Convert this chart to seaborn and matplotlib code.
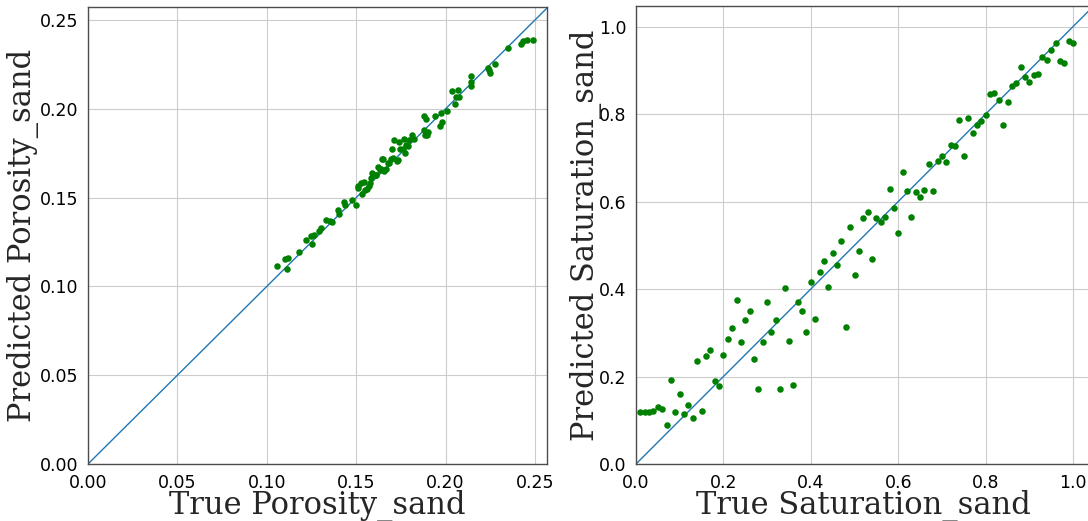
import numpy as np
import pandas as pd
import matplotlib
matplotlib.use("Agg")
import matplotlib.pyplot as plt
import seaborn as sns

# Porosity: true vs predicted
por_true = [0.1059, 0.1102, 0.1117, 0.1112, 0.1181, 0.1219, 0.1252, 0.1247, 0.1262, 0.1290,
            0.1301, 0.1333, 0.1356, 0.1363, 0.1397, 0.1406, 0.1431, 0.1440, 0.1476, 0.1498,
            0.1511, 0.1524, 0.1543, 0.1509, 0.1530, 0.1558, 0.1571, 0.1581, 0.1590, 0.1577,
            0.1609, 0.1622, 0.1637, 0.1650, 0.1656, 0.1665, 0.1684, 0.1693, 0.1699, 0.1712,
            0.1740, 0.1731, 0.1708, 0.1746, 0.1768, 0.1772, 0.1787, 0.1796, 0.1811, 0.1821,
            0.1881, 0.1890, 0.1881, 0.1886, 0.1903, 0.1943, 0.1975, 0.1969, 0.1978, 0.2005,
            0.2037, 0.2068, 0.2059, 0.2055, 0.2074, 0.2140, 0.2140, 0.2143, 0.2237, 0.2247,
            0.2275, 0.2243, 0.2351, 0.2420, 0.2435, 0.2455, 0.2491,
            0.1549, 0.1611, 0.1633, 0.1646, 0.1680, 0.1726, 0.1764, 0.1779, 0.1898]
por_pred = [0.1116, 0.1154, 0.1158, 0.1098, 0.1191, 0.1263, 0.1240, 0.1281, 0.1287, 0.1310,
            0.1328, 0.1371, 0.1366, 0.1360, 0.1428, 0.1405, 0.1473, 0.1458, 0.1488, 0.1456,
            0.1563, 0.1582, 0.1585, 0.1553, 0.1520, 0.1550, 0.1563, 0.1610, 0.1638, 0.1582,
            0.1629, 0.1672, 0.1660, 0.1717, 0.1651, 0.1660, 0.1694, 0.1717, 0.1775, 0.1822,
            0.1812, 0.1713, 0.1722, 0.1773, 0.1829, 0.1750, 0.1788, 0.1826, 0.1852, 0.1829,
            0.1961, 0.1944, 0.1878, 0.1850, 0.1867, 0.1962, 0.1976, 0.1904, 0.1923, 0.1989,
            0.2098, 0.2103, 0.2066, 0.2028, 0.2069, 0.2182, 0.2126, 0.2148, 0.2229, 0.2201,
            0.2253, 0.2216, 0.2341, 0.2365, 0.2382, 0.2385, 0.2387,
            0.1543, 0.1627, 0.1655, 0.1716, 0.1693, 0.1708, 0.1772, 0.1796, 0.1852]

# Saturation: true vs predicted
sat_true = [round(0.01 * i, 2) for i in range(1, 101)]
sat_pred = [0.119, 0.120, 0.119, 0.122, 0.131, 0.125, 0.089, 0.193, 0.119, 0.159,
            0.115, 0.135, 0.106, 0.236, 0.121, 0.248, 0.260, 0.189, 0.178, 0.249,
            0.285, 0.311, 0.375, 0.280, 0.330, 0.350, 0.240, 0.171, 0.278, 0.371,
            0.301, 0.329, 0.171, 0.402, 0.282, 0.180, 0.370, 0.349, 0.301, 0.415,
            0.331, 0.440, 0.463, 0.405, 0.482, 0.454, 0.509, 0.314, 0.541, 0.433,
            0.486, 0.562, 0.576, 0.469, 0.562, 0.553, 0.564, 0.628, 0.585, 0.528,
            0.667, 0.625, 0.565, 0.622, 0.610, 0.626, 0.686, 0.624, 0.693, 0.705,
            0.690, 0.729, 0.727, 0.787, 0.703, 0.791, 0.756, 0.776, 0.783, 0.798,
            0.846, 0.847, 0.831, 0.775, 0.827, 0.864, 0.872, 0.907, 0.884, 0.874,
            0.889, 0.891, 0.930, 0.923, 0.946, 0.962, 0.921, 0.917, 0.968, 0.963]

por_ticks = [0.00, 0.05, 0.10, 0.15, 0.20, 0.25]
sat_ticks = [0.0, 0.2, 0.4, 0.6, 0.8, 1.0]

sns.set_theme(style="whitegrid")
plt.rcParams.update({
    "axes.edgecolor": "0.3",
    "axes.linewidth": 1.0,
    "grid.color": "0.8",
    "grid.linewidth": 0.8,
    "xtick.major.size": 3.5,
    "ytick.major.size": 3.5,
    "xtick.color": "black",
    "ytick.color": "black",
    "xtick.labelsize": 12.5,
    "ytick.labelsize": 12.5,
})
plt.rcParams["font.family"] = ["DejaVu Sans"]

fig = plt.figure(figsize=(10.88, 5.21), dpi=100)
W, H = 1088, 521
ax1 = fig.add_axes([88 / W, 57 / H, 459 / W, 457 / H])
ax2 = fig.add_axes([636 / W, 57 / H, 455 / W, 458 / H])

df_por = pd.DataFrame({"true": por_true, "pred": por_pred})
df_sat = pd.DataFrame({"true": sat_true, "pred": sat_pred})

label_font = {"family": "DejaVu Serif", "size": 22}

panels = [
    (ax1, df_por, (0, 0.2567), (0, 0.2573), por_ticks, "{:.2f}",
     "True Porosity_sand", "Predicted Porosity_sand", -0.106),
    (ax2, df_sat, (0, 1.041), (0, 1.047), sat_ticks, "{:.1f}",
     "True Saturation_sand", "Predicted Saturation_sand", -0.075),
]

for ax, df, xl, yl, ticks, fmt, xlab, ylab, ylx in panels:
    ax.plot([0, 1.2], [0, 1.2], color="#1f77b4", linewidth=1.0, zorder=2)
    sns.scatterplot(data=df, x="true", y="pred", ax=ax, color="green",
                    s=22, linewidth=0, zorder=3)
    ax.set_xlim(*xl)
    ax.set_ylim(*yl)
    ax.set_xticks(ticks)
    ax.set_yticks(ticks)
    ax.set_xticklabels([fmt.format(t) for t in ticks])
    ax.set_yticklabels([fmt.format(t) for t in ticks])
    ax.set_xlabel(xlab, fontdict=label_font, labelpad=-1.5)
    ax.set_ylabel(ylab, fontdict=label_font)
    ax.yaxis.set_label_coords(ylx, 0.5)
    for sp in ax.spines.values():
        sp.set_visible(True)

fig.savefig("out.png", dpi=100)
